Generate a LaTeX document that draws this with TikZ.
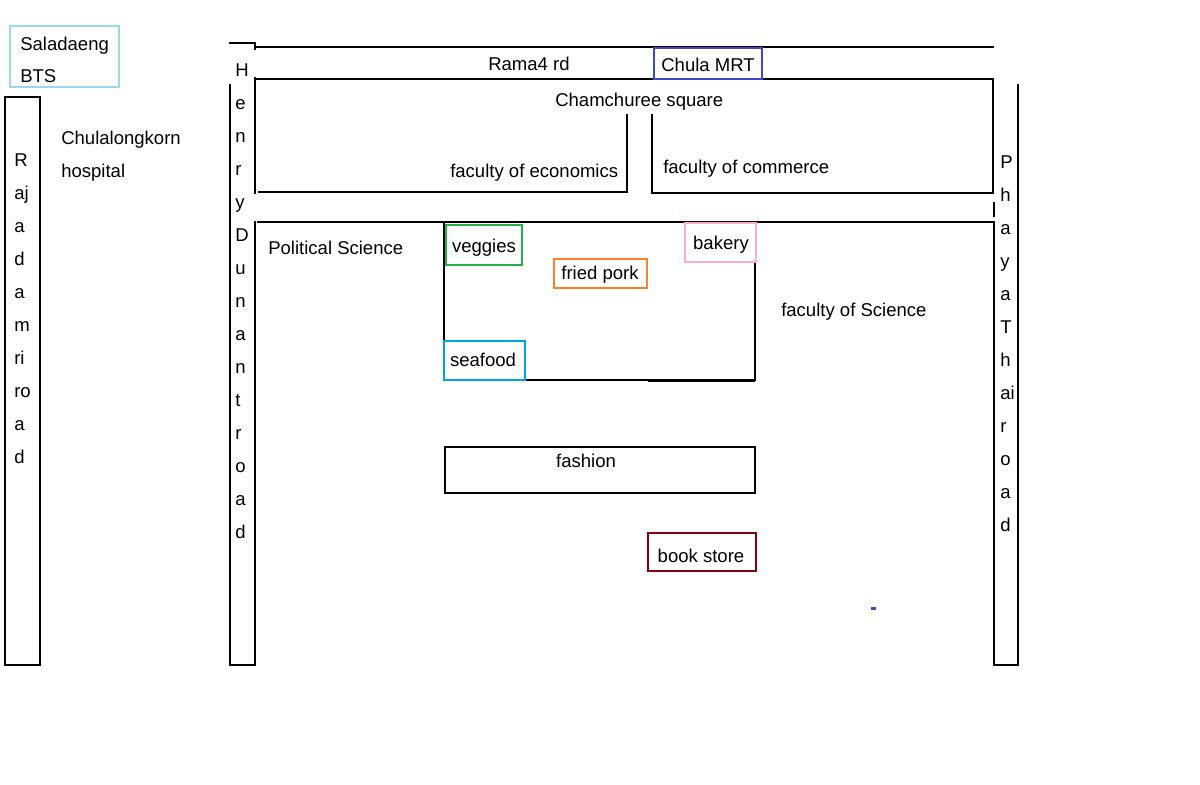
\documentclass[tikz,border=0pt]{standalone}
\usepackage{fontspec}
\setmainfont{Liberation Sans}
\usetikzlibrary{positioning}
\definecolor{btsblue}{HTML}{99D9EA}
\definecolor{mrtblue}{HTML}{3F48CC}
\definecolor{veggiegreen}{HTML}{22B14C}
\definecolor{porkorange}{HTML}{FF7F27}
\definecolor{bakerypink}{HTML}{FFAEC9}
\definecolor{seafoodblue}{HTML}{00A2E8}
\definecolor{bookred}{HTML}{880015}

\begin{document}
\begin{tikzpicture}[x=0.75pt,y=-0.75pt,
        road/.style = {line width=1.5pt, line cap=rect},
        stall/.style = {line width=1.5pt},
        lbl/.style = {inner sep=0pt, yshift=-1.5pt, font=\fontsize{13.9}{16}\selectfont, text height=10pt, text depth=3pt},
        ]
        \fill[white] (0,0) rectangle (1200,785);
        \path[use as bounding box] (0,0) rectangle (1200,785);

        % roads
        \draw[road] (5,97) rectangle (40,665);
        \draw[road] (230,43) -- (255,43) -- (255,49);
        \draw[road] (230,85) -- (230,665) -- (255,665) -- (255,222);
        \draw[road] (255,78) -- (255,193);
        \draw[road] (257,47) -- (993,47);
        \draw[road] (257,79) -- (993,79) -- (993,193) -- (652,193) -- (652,115);
        \draw[road] (627,115) -- (627,192) -- (259,192);
        \draw[road] (258,222) -- (993,222);
        \draw[road] (994,203) -- (994,216);
        \draw[road] (994,222) -- (994,665) -- (1018,665) -- (1018,85);

        % market and shops
        \draw[road] (444,222) -- (444,380) -- (755,380) -- (755,262);
        \draw[line width=2pt] (648,381) -- (755,381);
        \draw[stall] (445,447) rectangle (755,493);
        \draw[stall, btsblue] (10,26) rectangle (119,87);
        \draw[stall, mrtblue] (654,48) rectangle (762,79);
        \draw[stall, veggiegreen] (446,225) rectangle (522,265);
        \draw[stall, porkorange] (554,259) rectangle (647,288);
        \draw[stall, bakerypink] (685,223) rectangle (756,262);
        \draw[stall, seafoodblue] (444,341) rectangle (525,380);
        \draw[stall, bookred] (648,533) rectangle (756,571);
        \fill[mrtblue] (871,607) rectangle (876,610);

        % labels
        \node[lbl, anchor=west] (bts1) at (20,44) {Saladaeng};
        \node[lbl, anchor=west] (bts2) at (20,76) {BTS};
        \node[lbl, anchor=west] (hosp1) at (61,138) {Chulalongkorn};
        \node[lbl, anchor=west] (hosp2) at (61,171) {hospital};
        \node[lbl, anchor=west] (rama) at (488,64) {Rama4 rd};
        \node[lbl] (mrt) at (708,65) {Chula MRT};
        \node[lbl, anchor=west] (square) at (555,100) {Chamchuree square};
        \node[lbl, anchor=west] (econ) at (450,171) {faculty of economics};
        \node[lbl, anchor=west] (comm) at (663,167) {faculty of commerce};
        \node[lbl, anchor=west] (polsci) at (268,248) {Political Science};
        \node[lbl] (veggies) at (484,246) {veggies};
        \node[lbl] (pork) at (600,273) {fried pork};
        \node[lbl] (bakery) at (721,243) {bakery};
        \node[lbl, anchor=west] (sci) at (781,310) {faculty of Science};
        \node[lbl] (seafood) at (483,360) {seafood};
        \node[lbl] (fashion) at (586,461) {fashion};
        \node[lbl] (books) at (701,556) {book store};

        % road names, one piece per line
        \foreach \ch [count=\i] in {R,aj,a,d,a,m,ri,ro,a,d}
            \node[lbl, anchor=west] (raj\i) at (14,{127+33*\i}) {\ch};
        \foreach \ch [count=\i] in {H,e,n,r,y,D,u,n,a,n,t,r,o,a,d}
            \node[lbl, anchor=west] (henry\i) at (235,{37+33*\i}) {\ch};
        \foreach \ch [count=\i] in {P,h,a,y,a,T,h,ai,r,o,a,d}
            \node[lbl, anchor=west] (phaya\i) at (1000,{129+33*\i}) {\ch};
    \end{tikzpicture}
\end{document}
